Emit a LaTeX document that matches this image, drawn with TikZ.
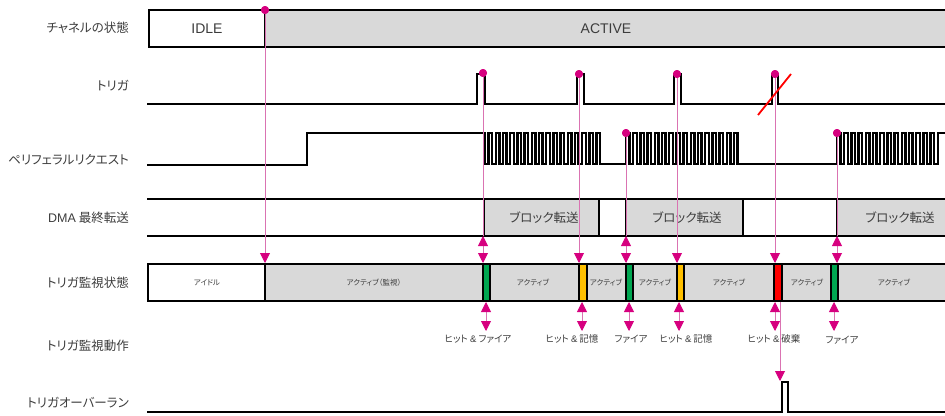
\documentclass[tikz,border=0pt]{standalone}
\usepackage{fontspec}
\setmainfont{Liberation Sans}
\newfontfamily\jp[RawFeature=+palt]{Noto Sans CJK JP}
\usetikzlibrary{arrows.meta}
\definecolor{mag}{RGB}{214,0,127}
\definecolor{lpink}{RGB}{218,115,178}
\definecolor{sgray}{RGB}{217,217,217}
\definecolor{txt}{RGB}{60,60,60}
\definecolor{sgreen}{RGB}{0,166,81}
\definecolor{syellow}{RGB}{255,192,0}
\definecolor{sred}{RGB}{255,0,0}
\begin{document}
\begin{tikzpicture}[x=1pt,y=-1pt,
  sig/.style={line width=2.5pt, line join=miter, black},
  wave/.style={line width=2.3pt, line join=miter, black},
  rowlabel/.style={anchor=east, inner sep=0pt, text=txt, font={\jp\fontsize{12.5}{14}\selectfont}},
  boxtext/.style={inner sep=0pt, text=txt, font={\fontsize{14}{16}\selectfont}},
  blocktext/.style={inner sep=0pt, text=txt, font={\jp\fontsize{12.5}{14}\selectfont}},
  statetext/.style={inner sep=0pt, text=txt, font={\jp\fontsize{7.5}{9}\selectfont}},
  acttext/.style={inner sep=0pt, text=txt, font={\jp\fontsize{9.5}{11}\selectfont}},
  dot/.style={circle, fill=mag, minimum size=8pt, inner sep=0pt},
  pk/.style={draw=lpink, line width=0.9pt},
  pkarrow/.style={pk, -{Triangle[length=10pt,width=10pt,color=mag]}},
  pkdouble/.style={pk, {Triangle[length=10pt,width=10pt,color=mag]}-{Triangle[length=10pt,width=10pt,color=mag]}},
  bar/.style={sig}
]
\useasboundingbox (0,0) rectangle (945,415);

% ---------- row labels
\node[rowlabel] (l1) at (129,28) {チャネルの状態};
\node[rowlabel] (l2) at (129,86) {トリガ};
\node[rowlabel] (l3) at (129,160) {ペリフェラルリクエスト};
\node[rowlabel] (l4) at (129,218) {{\fontspec{Liberation Sans}DMA} 最終転送};
\node[rowlabel] (l5) at (129,283) {トリガ監視状態};
\node[rowlabel] (l6) at (129,346) {トリガ監視動作};
\node[rowlabel] (l7) at (129,403) {トリガオーバーラン};

% ---------- channel state
\fill[sgray] (265,10) rectangle (945,47);
\draw[sig] (945,10) -- (149,10) -- (149,47) -- (945,47);
\draw[sig] (265,10) -- (265,47);
\node[boxtext] (idle) at (207,28.5) {IDLE};
\node[boxtext] (active) at (606,28.5) {ACTIVE};

% ---------- trigger
\draw[sig] (147,104) -- (477,104) -- (477,74) -- (485,74) -- (485,104)
  -- (577,104) -- (577,74) -- (584,74) -- (584,104)
  -- (674,104) -- (674,74) -- (681,74) -- (681,104)
  -- (772,104) -- (772,74) -- (778,74) -- (778,104) -- (945,104);

% ---------- peripheral request
\draw[wave] (147,165) -- (307,165) -- (307,133) -- (485,133)
  \foreach \i in {1,...,16}{ -- ++(0,31) -- ++(3.6,0) -- ++(0,-31) -- ++(3.6,0) }
  -- ++(0,31) -- (626,164) -- (626,133) -- ++(3.6,0)
  \foreach \i in {1,...,15}{ -- ++(0,31) -- ++(3.6,0) -- ++(0,-31) -- ++(3.6,0) }
  -- ++(0,31) -- (837,164) -- (837,133) -- ++(3.6,0)
  \foreach \i in {1,...,14}{ -- ++(0,31) -- ++(3.6,0) -- ++(0,-31) -- ++(3.6,0) }
  -- (945,133);

% ---------- DMA last transfer
\fill[sgray] (484,199) rectangle (599,236);
\fill[sgray] (626,199) rectangle (743,236);
\fill[sgray] (837,199) rectangle (945,236);
\draw[sig] (147,199) -- (945,199);
\draw[sig] (147,236) -- (945,236);
\foreach \x in {484,599,626,743,837} \draw[sig] (\x,199) -- (\x,236);
\node[blocktext] (b1) at (544,218) {ブロック転送};
\node[blocktext] (b2) at (687,218) {ブロック転送};
\node[blocktext] (b3) at (900,218) {ブロック転送};

% ---------- trigger monitor state
\fill[sgray] (265,264) rectangle (945,301);
\draw[sig] (945,264) -- (148,264) -- (148,301) -- (945,301);
\draw[sig] (265,264) -- (265,301);
\draw[bar, fill=sgreen]  (483,264) rectangle (490,301);
\draw[bar, fill=syellow] (579,264) rectangle (587,301);
\draw[bar, fill=sgreen]  (626,264) rectangle (633,301);
\draw[bar, fill=syellow] (677,264) rectangle (684,301);
\draw[bar, fill=sred]    (774,264) rectangle (782,301);
\draw[bar, fill=sgreen]  (831,264) rectangle (838,301);
\node[statetext] (s0) at (207,283) {アイドル};
\node[statetext] (s1) at (374,283) {アクティブ（監視）};
\node[statetext] (s2) at (533,283) {アクティブ};
\node[statetext] (s3) at (606,283) {アクティブ};
\node[statetext] (s4) at (655,283) {アクティブ};
\node[statetext] (s5) at (729,283) {アクティブ};
\node[statetext] (s6) at (807,283) {アクティブ};
\node[statetext] (s7) at (894,283) {アクティブ};

% ---------- trigger monitor actions
\node[acttext] (a1) at (478,339) {ヒット {\fontspec{Liberation Sans}\&} ファイア};
\node[acttext] (a2) at (572,339) {ヒット {\fontspec{Liberation Sans}\&} 記憶};
\node[acttext] (a3) at (631,339) {ファイア};
\node[acttext] (a4) at (686,339) {ヒット {\fontspec{Liberation Sans}\&} 記憶};
\node[acttext] (a5) at (774,339) {ヒット {\fontspec{Liberation Sans}\&} 破棄};
\node[acttext] (a6) at (842,340) {ファイア};

% ---------- trigger overrun
\draw[sig] (147,412) -- (782,412) -- (782,382) -- (788,382) -- (788,412) -- (945,412);

% ---------- coordinates for connectors
\coordinate (c0) at (265,263);
\coordinate (ua) at (483,236); \coordinate (va) at (483,263);
\coordinate (vb) at (579,263);
\coordinate (uc) at (626,236); \coordinate (vc) at (626,263);
\coordinate (vd) at (677,263);
\coordinate (ve) at (775,263);
\coordinate (uf) at (837,236); \coordinate (vf) at (837,263);
\foreach \n/\x in {1/486,2/582,3/629,4/679,5/775,6/834}{
  \coordinate (top\n) at (\x,302);
  \coordinate (bot\n) at (\x,331);
}
\coordinate (ovs) at (780,302);
\coordinate (ovt) at (780,381);

% ---------- dots
\node[dot] (d0) at (265,10) {};
\node[dot] (t1) at (483,73) {};
\node[dot] (t2) at (579,74) {};
\node[dot] (t3) at (677,74) {};
\node[dot] (t4) at (775,74) {};
\node[dot] (p1) at (626,133) {};
\node[dot] (p2) at (837,133) {};

% ---------- pink connectors
\draw[pkarrow] (d0.center) -- (c0);
\draw[pk] (t1.center) -- (ua);
\draw[pkdouble] (ua) -- (va);
\draw[pkarrow] (t2.center) -- (vb);
\draw[pk] (p1.center) -- (uc);
\draw[pkdouble] (uc) -- (vc);
\draw[pkarrow] (t3.center) -- (vd);
\draw[pkarrow] (t4.center) -- (ve);
\draw[pk] (p2.center) -- (uf);
\draw[pkdouble] (uf) -- (vf);
\foreach \n in {1,...,6} \draw[pkdouble] (top\n) -- (bot\n);
\draw[pkarrow] (ovs) -- (ovt);

% redraw dots on top
\foreach \d in {d0,t1,t2,t3,t4,p1,p2} \fill[mag] (\d.center) circle (4pt);

% ---------- red slash on discarded trigger
\draw[sred, line width=1.8pt] (758,115) -- (791,74);
\end{tikzpicture}
\end{document}
